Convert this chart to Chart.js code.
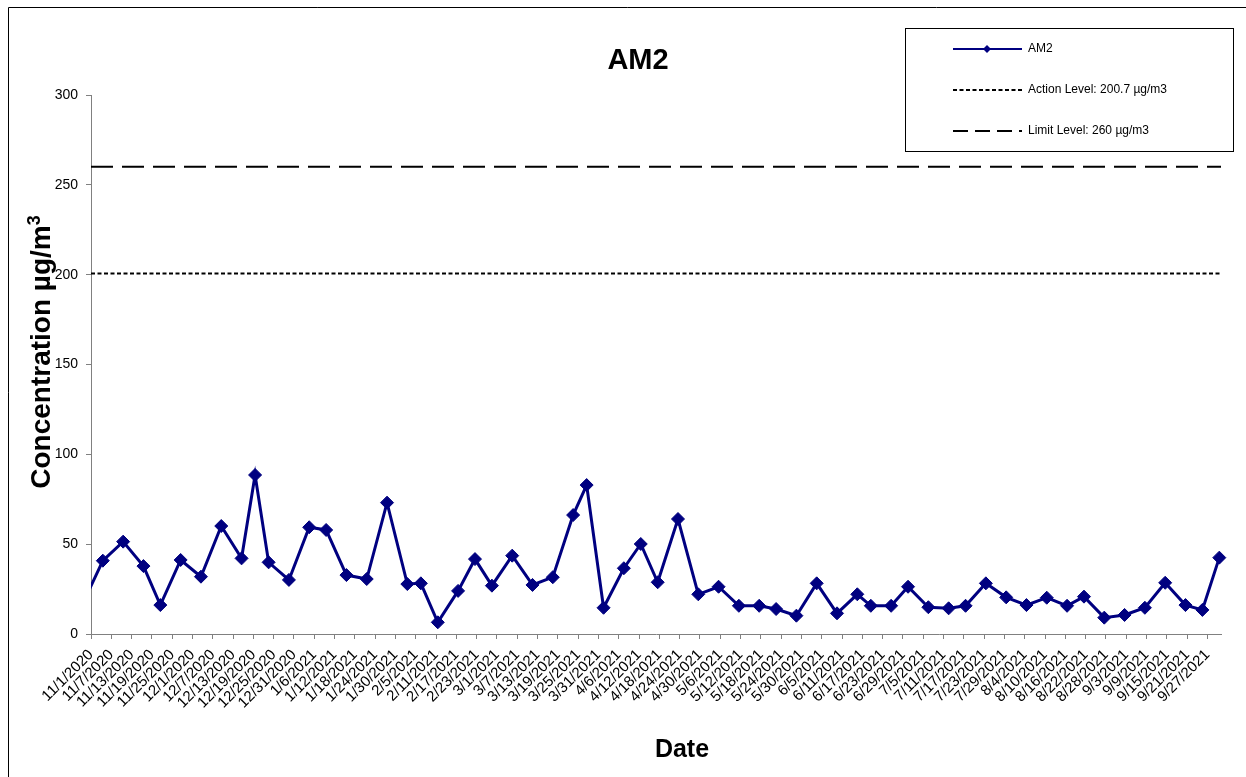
<!DOCTYPE html>
<html>
<head>
<meta charset="utf-8">
<title>AM2</title>
<script src="https://cdn.jsdelivr.net/npm/chart.js@4.4.1/dist/chart.umd.min.js"></script>
<style>
  body { margin: 0; background: #fff; }
  #wrap { width: 1246px; height: 777px; position: relative; }
</style>
</head>
<body>
<div id="wrap"><canvas id="am2Chart" width="1246" height="777"></canvas></div>
<script>
// ================= DATA =================
const sampleDates = [
  "10/29/2020", "11/4/2020", "11/10/2020", "11/16/2020", "11/21/2020", "11/27/2020",
  "12/3/2020", "12/9/2020", "12/15/2020", "12/19/2020", "12/23/2020", "12/29/2020",
  "1/4/2021", "1/9/2021", "1/15/2021", "1/21/2021", "1/27/2021", "2/2/2021",
  "2/6/2021", "2/11/2021", "2/17/2021", "2/22/2021", "2/27/2021", "3/5/2021",
  "3/11/2021", "3/17/2021", "3/23/2021", "3/27/2021", "4/1/2021", "4/7/2021",
  "4/12/2021", "4/17/2021", "4/23/2021", "4/29/2021", "5/5/2021", "5/11/2021",
  "5/17/2021", "5/22/2021", "5/28/2021", "6/3/2021", "6/9/2021", "6/15/2021",
  "6/19/2021", "6/25/2021", "6/30/2021", "7/6/2021", "7/12/2021", "7/17/2021",
  "7/23/2021", "7/29/2021", "8/4/2021", "8/10/2021", "8/16/2021", "8/21/2021",
  "8/27/2021", "9/2/2021", "9/8/2021", "9/14/2021", "9/20/2021", "9/25/2021",
  "9/30/2021"
];
const am2Values = [
  16.6, 40.8, 51.4, 37.8, 16.1, 41.2,
  31.9, 60.1, 42.1, 88.5, 39.9, 30.1,
  59.4, 57.9, 32.8, 30.6, 73.1, 27.8,
  28.2, 6.5, 24.0, 41.7, 26.9, 43.6,
  27.3, 31.6, 66.2, 82.9, 14.6, 36.6,
  50.1, 28.8, 64.0, 22.1, 26.3, 15.7,
  15.7, 13.9, 10.2, 28.2, 11.5, 22.1,
  15.7, 15.7, 26.3, 14.9, 14.3, 15.7,
  28.2, 20.4, 16.1, 20.2, 15.7, 20.8,
  9.1, 10.6, 14.6, 28.5, 16.1, 13.4,
  42.5
];
const axisStart = "11/1/2020";
const axisEnd = "10/1/2021";
const tickStepDays = 6;
const yTicks = [0, 50, 100, 150, 200, 250, 300];
const actionLevel = 200.7;
const limitLevel = 260;
const legendLabels = ["AM2", "Action Level: 200.7 \u00b5g/m3", "Limit Level: 260 \u00b5g/m3"];

// ================= HELPERS =================
const FONT = "'Liberation Sans', Arial, Helvetica, sans-serif";
const NAVY = "#000080";
const DAY = 86400000;

function toUTC(str) {
  const [m, d, y] = str.split("/").map(Number);
  return Date.UTC(y, m - 1, d);
}
const startUTC = toUTC(axisStart);
const dayIndex = str => (toUTC(str) - startUTC) / DAY;
const endDay = dayIndex(axisEnd);

function dayLabel(v) {
  const dt = new Date(startUTC + Math.round(v) * DAY);
  return (dt.getUTCMonth() + 1) + "/" + dt.getUTCDate() + "/" + dt.getUTCFullYear();
}

// points sit in the middle of their day slot, like the Excel date axis
const am2Points = sampleDates.map((d, i) => ({ x: dayIndex(d) + 0.5, y: am2Values[i] }));

// ================= PLUGINS =================
const frameAndText = {
  id: "frameAndText",
  beforeDraw(chart) {
    const c = chart.ctx;
    c.save();
    c.fillStyle = "#fff";
    c.fillRect(0, 0, chart.width, chart.height);
    c.strokeStyle = "#000";
    c.lineWidth = 1;
    c.beginPath();
    c.moveTo(8.5, chart.height);
    c.lineTo(8.5, 7.5);
    c.lineTo(chart.width, 7.5);
    c.stroke();
    c.restore();
  },
  afterDraw(chart) {
    const c = chart.ctx;
    c.save();
    c.fillStyle = "#000";
    c.textAlign = "center";
    c.textBaseline = "alphabetic";

    // chart title
    c.font = "bold 29px " + FONT;
    c.fillText("AM2", 638, 69);

    // x title
    c.font = "bold 25px " + FONT;
    c.fillText("Date", 682, 757);

    // y title with superscript 3
    c.translate(50, 352);
    c.rotate(-Math.PI / 2);
    c.font = "bold 28px " + FONT;
    const main = "Concentration \u00b5g/m";
    const w1 = c.measureText(main).width;
    c.font = "bold 18px " + FONT;
    const w2 = c.measureText("3").width;
    const x0 = -(w1 + w2) / 2;
    c.textAlign = "left";
    c.font = "bold 28px " + FONT;
    c.fillText(main, x0, 0);
    c.font = "bold 18px " + FONT;
    c.fillText("3", x0 + w1, -10);
    c.restore();

    // legend box
    c.save();
    c.strokeStyle = "#000";
    c.lineWidth = 1;
    c.strokeRect(905.5, 28.5, 328, 123);
    c.font = "12px " + FONT;
    c.fillStyle = "#000";
    c.textBaseline = "middle";
    c.textAlign = "left";
    const rows = [49, 90, 131];
    const styles = [
      { color: NAVY, dash: [], width: 2, marker: true },
      { color: "#000", dash: [4, 2.5], width: 2, marker: false },
      { color: "#000", dash: [15, 7], width: 2, marker: false }
    ];
    rows.forEach((y, i) => {
      const s = styles[i];
      c.strokeStyle = s.color;
      c.lineWidth = s.width;
      c.setLineDash(s.dash);
      c.beginPath();
      c.moveTo(953, y);
      c.lineTo(1022, y);
      c.stroke();
      c.setLineDash([]);
      if (s.marker) {
        c.fillStyle = s.color;
        c.beginPath();
        c.moveTo(987, y - 4);
        c.lineTo(991, y);
        c.lineTo(987, y + 4);
        c.lineTo(983, y);
        c.closePath();
        c.fill();
      }
      c.fillStyle = "#000";
      c.fillText(legendLabels[i], 1028, y);
    });
    c.restore();
  }
};

// ================= CHART =================
const ctx = document.getElementById("am2Chart").getContext("2d");

new Chart(ctx, {
  type: "line",
  data: {
    datasets: [
      {
        label: legendLabels[0],
        data: am2Points,
        borderColor: NAVY,
        backgroundColor: NAVY,
        borderWidth: 3,
        pointStyle: "rectRot",
        pointRadius: 6.5,
        pointBorderWidth: 1,
        pointBackgroundColor: NAVY,
        pointBorderColor: NAVY,
        tension: 0,
        clip: { left: 0, right: 10, top: 10, bottom: 10 }
      },
      {
        label: legendLabels[1],
        data: [{ x: 0, y: actionLevel }, { x: endDay, y: actionLevel }],
        borderColor: "#000",
        borderWidth: 2,
        borderDash: [4, 2.5],
        pointRadius: 0
      },
      {
        label: legendLabels[2],
        data: [{ x: 0, y: limitLevel }, { x: endDay, y: limitLevel }],
        borderColor: "#000",
        borderWidth: 2,
        borderDash: [22, 9],
        pointRadius: 0
      }
    ]
  },
  options: {
    responsive: false,
    animation: false,
    devicePixelRatio: 1,
    layout: { padding: { top: 95, right: 25, left: 0, bottom: 0 } },
    plugins: {
      legend: { display: false },
      title: { display: false },
      tooltip: { enabled: false }
    },
    scales: {
      x: {
        type: "linear",
        min: 0,
        max: endDay,
        afterFit: s => { s.height = 143; },
        grid: { display: true, drawOnChartArea: false, tickLength: 5, color: "#808080" },
        border: { color: "#808080", width: 1 },
        ticks: {
          stepSize: tickStepDays,
          includeBounds: false,
          autoSkip: false,
          maxRotation: 45,
          minRotation: 45,
          padding: 7,
          color: "#000",
          font: { family: FONT, size: 15 },
          callback: v => dayLabel(v)
        }
      },
      y: {
        min: yTicks[0],
        max: yTicks[yTicks.length - 1],
        afterFit: s => { s.width = 91; },
        afterBuildTicks: s => { s.ticks = yTicks.map(v => ({ value: v })); },
        grid: { display: true, drawOnChartArea: false, tickLength: 5, color: "#808080" },
        border: { color: "#808080", width: 1 },
        ticks: {
          padding: 8,
          color: "#000",
          font: { family: FONT, size: 14 }
        }
      }
    }
  },
  plugins: [frameAndText]
});
</script>
</body>
</html>
